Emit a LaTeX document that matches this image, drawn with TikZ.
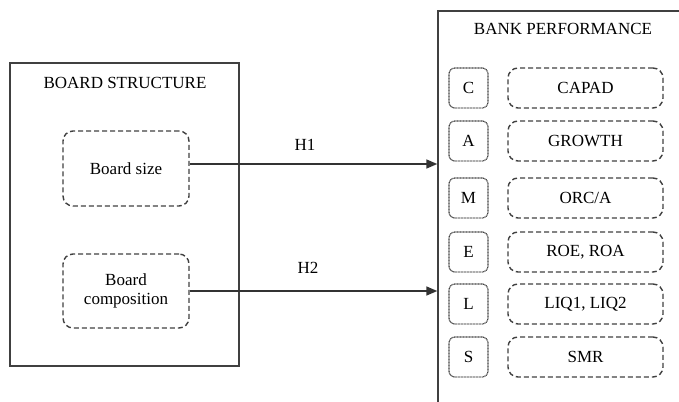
\documentclass[tikz,border=0pt]{standalone}
\usepackage{fontspec}
\setmainfont{Liberation Serif}
\usetikzlibrary{arrows.meta}
\begin{document}
\begin{tikzpicture}[x=1pt,y=-1pt,
  every node/.style={font=\fontsize{17}{19.5}\selectfont, text=black},
  frame/.style={draw=black!75, line width=1.4pt, minimum width=#1},
  dashbox/.style={draw=black!75, line width=1.4pt, dash pattern=on 5pt off 3pt,
    rounded corners=10pt, align=center, inner sep=0pt},
  dotbox/.style={draw=black!75, line width=1.2pt, dash pattern=on 0.9pt off 0.6pt,
    rounded corners=6pt, minimum width=39pt, minimum height=40pt, inner sep=0pt},
  itembox/.style={dashbox, minimum width=155pt, minimum height=40pt},
  link/.style={draw=black!80, line width=1.4pt, -{Triangle[length=11pt,width=9pt]}},
  lbl/.style={inner sep=0pt}
]
\useasboundingbox (0,0) rectangle (679,401);
\clip (0,0) rectangle (679,401);

% board structure frame and its two factors
\node[frame=229pt, minimum height=303pt] (board) at (124.5,214.5) {};
\node[lbl] (boardtitle) at (125,83) {BOARD STRUCTURE};
\node[dashbox, minimum width=126pt, minimum height=75pt] (size) at (126,168.5) {Board size};
\node[dashbox, minimum width=126pt, minimum height=74pt] (comp) at (126,291) {Board\\[-1pt]composition};

% bank performance frame, running past the page edge
\node[frame=282pt, minimum height=419pt] (perf) at (579,220.5) {};
\node[lbl] (perftitle) at (563,29) {BANK PERFORMANCE};

% CAMELS rows
\foreach \name/\letter/\measure/\y in {c/C/CAPAD/88, a/A/GROWTH/141, m/M/ORC\slash A/198,
    e/E/{ROE, ROA}/252, l/L/{LIQ1, LIQ2}/304, s/S/SMR/357} {
  \node[dotbox] (\name) at (468.5,\y) {\letter};
  \node[itembox] (\name m) at (585.5,\y) {\measure};
}

% hypotheses
\coordinate (h1start) at ([yshift=4.5pt]size.east);
\draw[link] (h1start) -- (h1start -| perf.west);
\draw[link] (comp.east) -- (comp.east -| perf.west);
\node[lbl] (h1) at (305,145) {H1};
\node[lbl] (h2) at (308,268) {H2};
\end{tikzpicture}
\end{document}
